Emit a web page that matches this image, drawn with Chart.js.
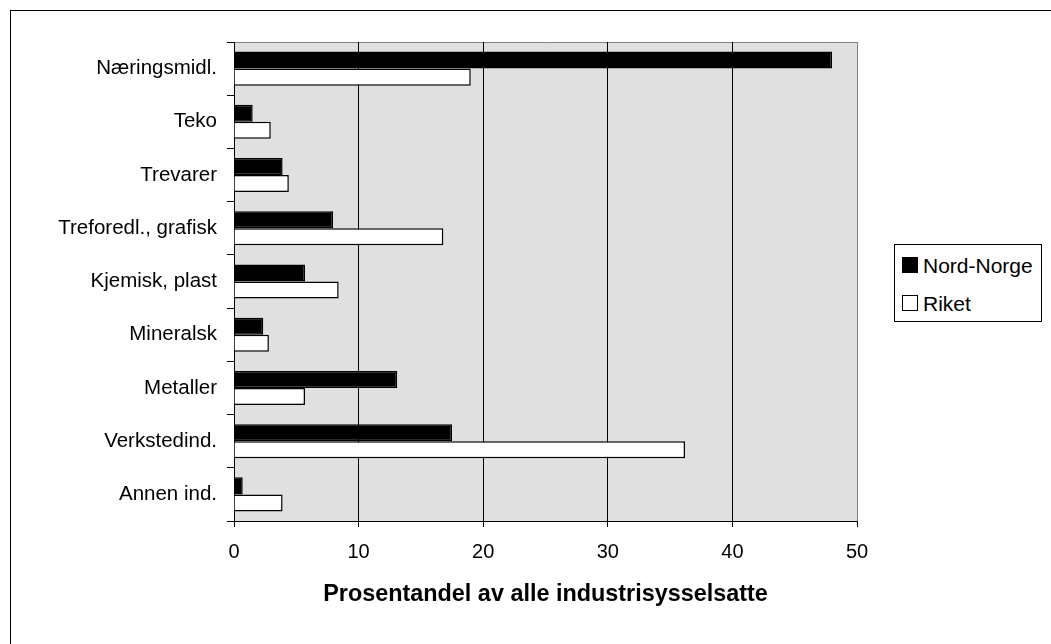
<!DOCTYPE html>
<html>
<head>
<meta charset="utf-8">
<script src="https://cdn.jsdelivr.net/npm/chart.js@4"></script>
<style>
  html, body { margin: 0; padding: 0; background: #fff; overflow: hidden; }
  #wrap { position: relative; width: 1051px; height: 644px; }
  #frame { position: absolute; left: 10px; top: 10px; width: 1100px; height: 700px; border: 1px solid #000; box-sizing: border-box; }
  canvas { position: absolute; left: 0; top: 0; }
  #legend { position: absolute; left: 894px; top: 244px; width: 148px; height: 78px; border: 1px solid #000; box-sizing: border-box; background: #fff;
            font-family: "Liberation Sans", Arial, sans-serif; font-size: 21px; color: #000; }
  .item { position: absolute; left: 7px; height: 24px; line-height: 24px; white-space: nowrap; }
  .sw { display: inline-block; width: 14px; height: 14px; border: 1px solid #000; vertical-align: middle; margin-right: 5px; position: relative; top: -2px; }
</style>
</head>
<body>
<div id="wrap">
  <div id="frame"></div>
  <canvas id="c" width="1051" height="644"></canvas>
  <div id="legend"></div>
</div>
<script>
const categories = ['Næringsmidl.', 'Teko', 'Trevarer', 'Treforedl., grafisk', 'Kjemisk, plast', 'Mineralsk', 'Metaller', 'Verkstedind.', 'Annen ind.'];
const nordNorge = [48.0, 1.5, 3.9, 7.95, 5.7, 2.35, 13.1, 17.5, 0.7];
const riket = [19.0, 2.95, 4.4, 16.8, 8.4, 2.8, 5.7, 36.2, 3.9];
const seriesNames = ['Nord-Norge', 'Riket'];
const seriesColors = ['#000000', '#ffffff'];
const xTitle = 'Prosentandel av alle industrisysselsatte';

const FONT = '"Liberation Sans", Arial, sans-serif';

const plotBg = {
  id: 'plotBg',
  beforeDraw(chart) {
    const {ctx, chartArea: a} = chart;
    ctx.save();
    ctx.fillStyle = '#e0e0e0';
    ctx.fillRect(a.left, a.top, a.right - a.left, a.bottom - a.top);
    ctx.strokeStyle = '#808080';
    ctx.lineWidth = 1;
    ctx.beginPath();
    ctx.moveTo(a.left, a.top + 0.5);
    ctx.lineTo(a.right, a.top + 0.5);
    ctx.stroke();
    ctx.restore();
  }
};

new Chart(document.getElementById('c'), {
  type: 'bar',
  data: {
    labels: categories,
    datasets: [
      { label: seriesNames[0], data: nordNorge, backgroundColor: seriesColors[0], borderColor: '#000', borderWidth: 1.5, categoryPercentage: 0.64, barPercentage: 1.0 },
      { label: seriesNames[1], data: riket, backgroundColor: seriesColors[1], borderColor: '#000', borderWidth: 1.5, categoryPercentage: 0.64, barPercentage: 1.0 }
    ]
  },
  options: {
    indexAxis: 'y',
    responsive: false,
    animation: false,
    layout: { padding: { top: 42, right: 194, left: 0, bottom: 0 } },
    plugins: { legend: { display: false }, tooltip: { enabled: false } },
    scales: {
      x: {
        type: 'linear', min: 0, max: 50,
        afterFit(s) { s.height = 123; },
        ticks: { stepSize: 10, color: '#000', font: { family: FONT, size: 20 }, padding: 13 },
        grid: {
          color: (c) => (c.tick && c.tick.value === 50) ? '#808080' : '#000',
          lineWidth: 1, tickLength: 6, tickColor: '#000', drawTicks: true
        },
        border: { display: true, color: '#000', width: 1 },
        title: { display: true, text: xTitle, color: '#000', font: { family: FONT, size: 23.4, weight: 'bold' }, padding: { top: 0, bottom: 35 } }
      },
      y: {
        type: 'category',
        afterFit(s) { s.width = 234; },
        ticks: { color: '#000', font: { family: FONT, size: 20.5 }, padding: 10 },
        grid: { offset: true, drawOnChartArea: false, drawTicks: true, tickLength: 7, tickColor: '#000', color: '#000' },
        border: { display: true, color: '#000', width: 1 }
      }
    }
  },
  plugins: [plotBg]
});

const lg = document.getElementById('legend');
seriesNames.forEach((n, i) => {
  const d = document.createElement('div');
  d.className = 'item';
  d.style.top = (i === 0 ? 9 : 47) + 'px';
  const sw = document.createElement('span');
  sw.className = 'sw';
  sw.style.background = seriesColors[i];
  d.appendChild(sw);
  d.appendChild(document.createTextNode(n));
  lg.appendChild(d);
});
</script>
</body>
</html>
